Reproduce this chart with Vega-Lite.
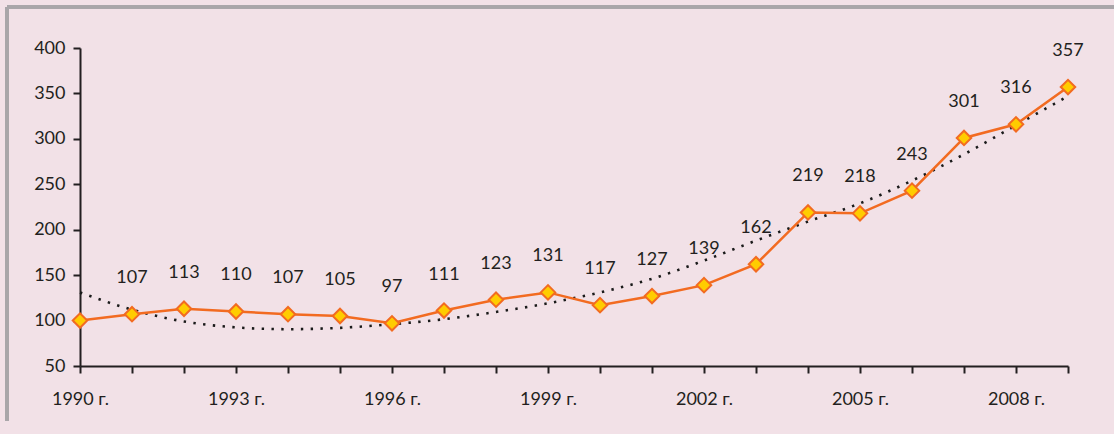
{
  "$schema": "https://vega.github.io/schema/vega-lite/v6.json",
  "autosize": {"type": "none"},
  "width": 988,
  "height": 318,
  "padding": {"left": 80, "top": 48, "right": 46, "bottom": 68},
  "background": "#f2e1e7",
  "config": {
    "view": {"stroke": null},
    "font": "Lato",
    "axis": {
      "domainColor": "#231f20",
      "domainWidth": 2,
      "tickColor": "#231f20",
      "tickWidth": 2,
      "tickSize": 7,
      "grid": false,
      "labelFont": "Lato",
      "labelFontSize": 18,
      "labelColor": "#231f20",
      "title": null
    }
  },
  "datasets": {
    "main": [
      {"year": 1990, "value": 100},
      {"year": 1991, "value": 107},
      {"year": 1992, "value": 113},
      {"year": 1993, "value": 110},
      {"year": 1994, "value": 107},
      {"year": 1995, "value": 105},
      {"year": 1996, "value": 97},
      {"year": 1997, "value": 111},
      {"year": 1998, "value": 123},
      {"year": 1999, "value": 131},
      {"year": 2000, "value": 117},
      {"year": 2001, "value": 127},
      {"year": 2002, "value": 139},
      {"year": 2003, "value": 162},
      {"year": 2004, "value": 219},
      {"year": 2005, "value": 218},
      {"year": 2006, "value": 243},
      {"year": 2007, "value": 301},
      {"year": 2008, "value": 316},
      {"year": 2009, "value": 357}
    ],
    "trend": [
      {"year": 1990, "value": 131},
      {"year": 1991, "value": 112},
      {"year": 1992, "value": 99},
      {"year": 1993, "value": 92.5},
      {"year": 1994, "value": 90.5},
      {"year": 1995, "value": 92},
      {"year": 1996, "value": 96},
      {"year": 1997, "value": 101.5},
      {"year": 1998, "value": 109.5},
      {"year": 1999, "value": 119},
      {"year": 2000, "value": 131},
      {"year": 2001, "value": 146},
      {"year": 2002, "value": 166},
      {"year": 2003, "value": 188},
      {"year": 2004, "value": 209},
      {"year": 2005, "value": 229},
      {"year": 2006, "value": 254},
      {"year": 2007, "value": 283},
      {"year": 2008, "value": 315},
      {"year": 2009, "value": 347}
    ]
  },
  "data": {"name": "main"},
  "encoding": {
    "x": {
      "field": "year",
      "type": "quantitative",
      "scale": {"domain": [1990, 2009], "nice": false, "zero": false},
      "axis": {
        "values": [1990,1991,1992,1993,1994,1995,1996,1997,1998,1999,2000,2001,2002,2003,2004,2005,2006,2007,2008,2009],
        "labelExpr": "(datum.value - 1990) % 3 == 0 ? datum.value + ' г.' : ''",
        "labelPadding": 17,
        "labelFlush": false,
        "labelOverlap": false
      }
    },
    "y": {
      "field": "value",
      "type": "quantitative",
      "scale": {"domain": [50, 400], "nice": false, "zero": false},
      "axis": {"values": [50,100,150,200,250,300,350,400], "labelPadding": 8}
    }
  },
  "layer": [
    {
      "mark": {"type": "rule", "color": "#a9a6a9", "strokeWidth": 3, "clip": false},
      "encoding": {
        "x": {"datum": 1988.6, "type": "quantitative"},
        "x2": {"datum": 2010},
        "y": {"datum": 445, "type": "quantitative"}
      }
    },
    {
      "mark": {"type": "rule", "color": "#a9a6a9", "strokeWidth": 3, "clip": false},
      "encoding": {
        "x": {"datum": 1988.6, "type": "quantitative"},
        "y": {"datum": 445, "type": "quantitative"},
        "y2": {"datum": -10}
      }
    },
    {
      "data": {"name": "trend"},
      "mark": {"type": "line", "color": "#1a1a1a", "strokeWidth": 2.6, "strokeDash": [2.4, 7.4], "interpolate": "monotone"}
    },
    {
      "mark": {"type": "line", "color": "#f26b21", "strokeWidth": 2.5}
    },
    {
      "mark": {"type": "point", "shape": "diamond", "size": 210, "filled": true, "fill": "#ffcc00", "stroke": "#f26b21", "strokeWidth": 2, "opacity": 1}
    },
    {
      "transform": [{"filter": "datum.year > 1990"}],
      "mark": {"type": "text", "dy": -36, "fontSize": 18, "color": "#231f20", "baseline": "middle"},
      "encoding": {"text": {"field": "value", "type": "quantitative"}}
    }
  ]
}
